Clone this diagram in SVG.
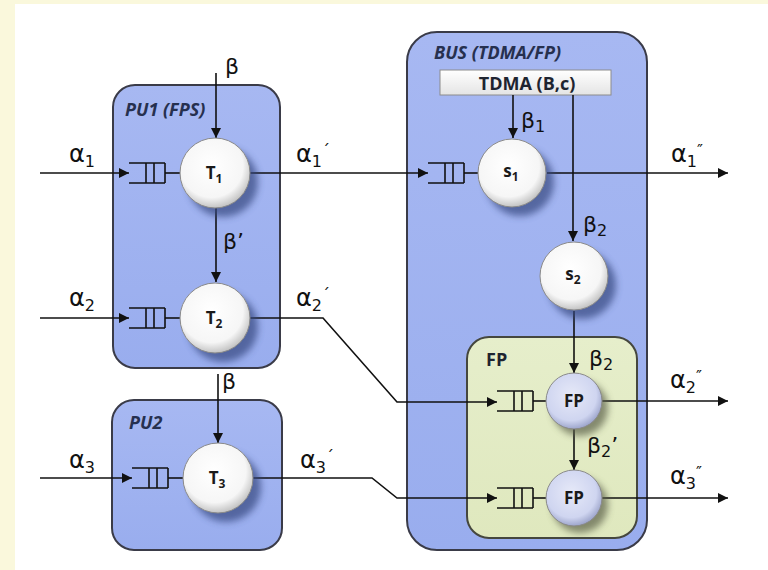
<svg xmlns="http://www.w3.org/2000/svg" xmlns:xlink="http://www.w3.org/1999/xlink" width="768" height="570" viewBox="0 0 768 570">
  <style>
    .box { fill: url(#boxFill); stroke: #3a3b48; stroke-width: 2; }
    .fpbox { fill: url(#fpFill); stroke: #45473e; stroke-width: 2; }
    .title { font-family: "Open Sans", "Liberation Sans", sans-serif; font-weight: bold; font-style: italic; font-size: 18px; fill: #26304f; }
    .title2 { font-family: "Open Sans", "Liberation Sans", sans-serif; font-weight: bold; font-size: 18px; fill: #1e2430; }
    .nlabel { font-family: "Open Sans", "Liberation Sans", sans-serif; font-weight: bold; font-size: 17px; fill: #1a1a1a; text-anchor: middle; }
    .sub { font-size: 12px; }
    .greek { font-family: "DejaVu Sans", "Open Sans", sans-serif; font-size: 24px; fill: #111; }
    .beta { font-size: 22px; }
    .gsub { font-size: 16px; }
    .prime { font-size: 16px; }
    .wire { fill: none; stroke: #111; stroke-width: 1.6; }
    .queue { fill: none; stroke: #111; stroke-width: 1.6; }
    .node { stroke: #8a8a8a; stroke-width: 1; }
    .shadow { fill: #34467f; opacity: 0.7; filter: url(#soft); }
  </style>
  <defs>
    <linearGradient id="boxFill" x1="0" y1="0" x2="0" y2="1">
      <stop offset="0" stop-color="#a7b8f2"/>
      <stop offset="1" stop-color="#99adee"/>
    </linearGradient>
    <linearGradient id="fpFill" x1="0" y1="0" x2="0" y2="1">
      <stop offset="0" stop-color="#e6eecb"/>
      <stop offset="1" stop-color="#dfe8be"/>
    </linearGradient>
    <linearGradient id="tdmaFill" x1="0" y1="0" x2="0" y2="1">
      <stop offset="0" stop-color="#ffffff"/>
      <stop offset="1" stop-color="#e4e4e4"/>
    </linearGradient>
    <radialGradient id="ball" cx="0.45" cy="0.4" r="0.6">
      <stop offset="0" stop-color="#ffffff"/>
      <stop offset="0.75" stop-color="#f6f6f6"/>
      <stop offset="1" stop-color="#c4c4c4"/>
    </radialGradient>
    <radialGradient id="fpBall" cx="0.45" cy="0.4" r="0.6">
      <stop offset="0" stop-color="#e6e9f8"/>
      <stop offset="0.75" stop-color="#cfd5f0"/>
      <stop offset="1" stop-color="#9ea6cc"/>
    </radialGradient>
    <filter id="soft" x="-50%" y="-50%" width="200%" height="200%">
      <feGaussianBlur stdDeviation="3.5"/>
    </filter>
    <marker id="arrow" viewBox="0 0 10 10" refX="10" refY="5" markerWidth="10" markerHeight="10" markerUnits="userSpaceOnUse" orient="auto">
      <path d="M0,0 L10,5 L0,10 z" fill="#111"/>
    </marker>
    <!-- FIFO queue: open on the left, three slots on the right -->
    <g id="queue">
      <path class="queue" d="M0,-10 H36 M0,10 H36 M17,-10 V10 M25,-10 V10 M36,-10 V10"/>
    </g>
  </defs>

  <!-- page -->
  <rect width="768" height="570" fill="#faf8dc"/>
  <rect x="15" y="4" width="753" height="566" fill="#ffffff"/>

  <!-- containers -->
  <g id="pu1">
    <rect class="box" x="113" y="85" width="167" height="283" rx="22"/>
    <text class="title" x="125" y="116">PU1 (FPS)</text>
  </g>
  <g id="pu2">
    <rect class="box" x="112" y="400" width="170" height="150" rx="22"/>
    <text class="title" x="129" y="429">PU2</text>
  </g>
  <g id="bus">
    <rect class="box" x="407" y="32" width="240" height="518" rx="30"/>
    <text class="title" x="434" y="59">BUS (TDMA/FP)</text>
  </g>
  <g id="fp-box">
    <rect class="fpbox" x="467" y="337" width="170" height="201" rx="22"/>
    <text class="title2" x="486" y="366">FP</text>
  </g>
  <g id="tdma">
    <rect x="440" y="70" width="171" height="25" fill="url(#tdmaFill)" stroke="#8c8c8c" stroke-width="1"/>
    <text class="title2" x="527" y="90" text-anchor="middle">TDMA (B,c)</text>
  </g>

  <!-- connectors -->
  <g id="connectors">
    <path class="wire" d="M40,173 H129" marker-end="url(#arrow)"/>
    <path class="wire" d="M40,318 H129" marker-end="url(#arrow)"/>
    <path class="wire" d="M40,478 H132" marker-end="url(#arrow)"/>
    <path class="wire" d="M250,173 H428" marker-end="url(#arrow)"/>
    <path class="wire" d="M547,173 H728" marker-end="url(#arrow)"/>
    <path class="wire" d="M250,318 H323 L397,402 H497" marker-end="url(#arrow)"/>
    <path class="wire" d="M253,478 H372 L397,498 H497" marker-end="url(#arrow)"/>
    <path class="wire" d="M602,401 H728" marker-end="url(#arrow)"/>
    <path class="wire" d="M602,498 H728" marker-end="url(#arrow)"/>
    <path class="wire" d="M216,73 V138" marker-end="url(#arrow)"/>
    <path class="wire" d="M216,208 V282" marker-end="url(#arrow)"/>
    <path class="wire" d="M218,374 V443" marker-end="url(#arrow)"/>
    <path class="wire" d="M513,95 V138" marker-end="url(#arrow)"/>
    <path class="wire" d="M573,95 V241" marker-end="url(#arrow)"/>
    <path class="wire" d="M574,311 V373" marker-end="url(#arrow)"/>
    <path class="wire" d="M574,429 V470" marker-end="url(#arrow)"/>

    <!-- rate labels -->
    <text class="greek" x="69" y="162">α<tspan class="gsub" dy="5">1</tspan></text>
    <text class="greek" x="296" y="162">α<tspan class="gsub" dy="5">1</tspan><tspan class="prime" dx="0" dy="-11">´</tspan></text>
    <text class="greek" x="671" y="162">α<tspan class="gsub" dy="5">1</tspan><tspan class="prime" dx="0" dy="-11">″</tspan></text>
    <text class="greek" x="69" y="306">α<tspan class="gsub" dy="5">2</tspan></text>
    <text class="greek" x="296" y="306">α<tspan class="gsub" dy="5">2</tspan><tspan class="prime" dx="0" dy="-11">´</tspan></text>
    <text class="greek" x="670" y="388">α<tspan class="gsub" dy="5">2</tspan><tspan class="prime" dx="0" dy="-11">″</tspan></text>
    <text class="greek" x="69" y="468">α<tspan class="gsub" dy="5">3</tspan></text>
    <text class="greek" x="300" y="468">α<tspan class="gsub" dy="5">3</tspan><tspan class="prime" dx="0" dy="-11">´</tspan></text>
    <text class="greek" x="670" y="484">α<tspan class="gsub" dy="5">3</tspan><tspan class="prime" dx="0" dy="-11">″</tspan></text>
    <text class="greek beta" x="225" y="74">β</text>
    <text class="greek beta" x="223" y="249">β’</text>
    <text class="greek beta" x="222" y="389">β</text>
    <text class="greek beta" x="521" y="128">β<tspan class="gsub" dy="4">1</tspan></text>
    <text class="greek beta" x="583" y="232">β<tspan class="gsub" dy="4">2</tspan></text>
    <text class="greek beta" x="589" y="366">β<tspan class="gsub" dy="4">2</tspan></text>
    <text class="greek beta" x="587" y="453">β<tspan class="gsub" dy="4">2</tspan><tspan dy="-4">’</tspan></text>
  </g>

  <!-- tasks and servers -->
  <g id="T1">
    <use xlink:href="#queue" x="129" y="173"/>
    <path class="wire" d="M165,173 H181"/>
    <circle class="shadow" cx="223" cy="182" r="35"/>
    <circle class="node" cx="215" cy="173" r="35" fill="url(#ball)"/>
    <text class="nlabel" x="214" y="179">T<tspan class="sub" dy="4">1</tspan></text>
  </g>
  <g id="T2">
    <use xlink:href="#queue" x="129" y="318"/>
    <path class="wire" d="M165,318 H181"/>
    <circle class="shadow" cx="223" cy="327" r="35"/>
    <circle class="node" cx="215" cy="318" r="35" fill="url(#ball)"/>
    <text class="nlabel" x="214" y="324">T<tspan class="sub" dy="4">2</tspan></text>
  </g>
  <g id="T3">
    <use xlink:href="#queue" x="132" y="478"/>
    <path class="wire" d="M168,478 H183"/>
    <circle class="shadow" cx="226" cy="487" r="35"/>
    <circle class="node" cx="218" cy="478" r="35" fill="url(#ball)"/>
    <text class="nlabel" x="217" y="484">T<tspan class="sub" dy="4">3</tspan></text>
  </g>
  <g id="s1">
    <use xlink:href="#queue" x="428" y="173"/>
    <path class="wire" d="M464,173 H478"/>
    <circle class="shadow" cx="520" cy="182" r="34"/>
    <circle class="node" cx="512" cy="173" r="34" fill="url(#ball)"/>
    <text class="nlabel" x="511" y="177">s<tspan class="sub" dy="4">1</tspan></text>
  </g>
  <g id="s2">
    <circle class="shadow" cx="582" cy="285" r="34"/>
    <circle class="node" cx="574" cy="276" r="34" fill="url(#ball)"/>
    <text class="nlabel" x="573" y="280">s<tspan class="sub" dy="4">2</tspan></text>
  </g>
  <g id="fp1">
    <use xlink:href="#queue" x="497" y="401"/>
    <path class="wire" d="M533,401 H546"/>
    <circle class="shadow" cx="580" cy="408" r="28" style="fill:#5b604a"/>
    <circle class="node" cx="574" cy="401" r="28" fill="url(#fpBall)"/>
    <text class="nlabel" x="574" y="407">FP</text>
  </g>
  <g id="fp2">
    <use xlink:href="#queue" x="497" y="498"/>
    <path class="wire" d="M533,498 H546"/>
    <circle class="shadow" cx="580" cy="505" r="28" style="fill:#5b604a"/>
    <circle class="node" cx="574" cy="498" r="28" fill="url(#fpBall)"/>
    <text class="nlabel" x="574" y="504">FP</text>
  </g>
</svg>
